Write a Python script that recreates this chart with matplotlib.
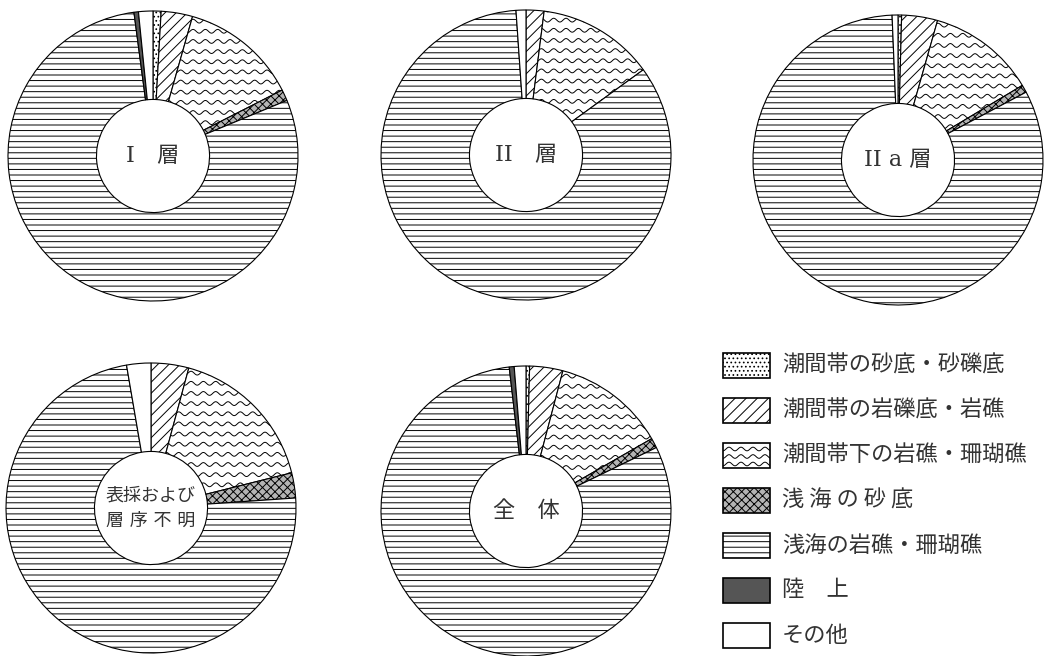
import numpy as np
import matplotlib.pyplot as plt
from matplotlib.patches import Rectangle
from matplotlib.collections import LineCollection

plt.rcParams['font.family'] = ['Noto Sans CJK JP', 'DejaVu Sans']
plt.rcParams['hatch.linewidth'] = 0.7

# 凡例の項目（円グラフの並び順と同じ）
categories = ['潮間帯の砂底・砂礫底', '潮間帯の岩礫底・岩礁', '潮間帯下の岩礁・珊瑚礁',
              '浅 海 の 砂 底', '浅海の岩礁・珊瑚礁', '陸　上', 'その他']

# 各層の割合（%）: 図から読み取った推定値
layer_1 = [0.9, 3.5, 13.1, 1.25, 79.2, 0.5, 1.6]
layer_2 = [0.0, 2.0, 13.0, 0.0, 83.9, 0.0, 1.1]
layer_2a = [0.4, 4.0, 12.0, 0.85, 82.1, 0.0, 0.65]
layer_unknown = [0.0, 4.2, 16.9, 2.8, 73.4, 0.0, 2.7]
layer_all = [0.4, 3.7, 12.6, 1.1, 80.4, 0.55, 1.3]

titles = ['I　層', 'II　層', 'II a 層', '表採および\n層 序 不 明', '全　体']
datasets = [layer_1, layer_2, layer_2a, layer_unknown, layer_all]

# 塗りのスタイル（wavy は手で描く）
styles = [
    dict(facecolor='white', hatch='....'),
    dict(facecolor='white', hatch='///'),
    dict(facecolor='white', hatch=None),
    dict(facecolor='#b4b4b4', hatch='xxxx'),
    dict(facecolor='white', hatch='---'),
    dict(facecolor='#555555', hatch=None),
    dict(facecolor='white', hatch=None),
]
WAVY = 2

W, H = 1045, 656
R = 145  # 外径（px）
centers = [(153, 156), (526, 155), (898, 160), (151, 508), (526, 511)]

fig = plt.figure(figsize=(W / 100, H / 100), dpi=100)


def wave_lines(x0, x1, y0, y1, spacing, period, amp):
    xs = np.linspace(x0, x1, 500)
    segs = []
    for y in np.arange(y0, y1, spacing):
        segs.append(np.column_stack([xs, y + amp * np.sin(2 * np.pi * xs / period)]))
    return segs


def donut(cx, cy, values, title, fs):
    L = 1.04
    half = R * L
    ax = fig.add_axes([(cx - half) / W, 1 - (cy + half) / H, 2 * half / W, 2 * half / H])
    idx = [i for i, v in enumerate(values) if v > 0]
    wedges, _ = ax.pie([values[i] for i in idx], startangle=90, counterclock=False,
                       radius=1.0,
                       wedgeprops=dict(width=0.61, edgecolor='black', linewidth=0.8))
    for w, i in zip(wedges, idx):
        w.set_facecolor(styles[i]['facecolor'])
        if styles[i]['hatch']:
            w.set_hatch(styles[i]['hatch'])
        if i == WAVY:
            lc = LineCollection(wave_lines(-1.1, 1.1, -1.1, 1.1, 0.07, 0.085, 0.013),
                                colors='black', linewidths=0.7)
            ax.add_collection(lc)
            lc.set_clip_path(w)
    ax.text(0, 0, title, ha='center', va='center', fontsize=fs, linespacing=1.5,
            color='#333333', family=['DejaVu Serif', 'Noto Sans CJK JP'])
    ax.set_xlim(-L, L)
    ax.set_ylim(-L, L)
    ax.set_aspect('equal')
    ax.axis('off')


for (cx, cy), vals, t in zip(centers, datasets, titles):
    donut(cx, cy, vals, t, 13 if '\n' in t else 16)

# 凡例
lg = fig.add_axes([0, 0, 1, 1])
lg.set_xlim(0, W)
lg.set_ylim(H, 0)
lg.axis('off')
row_y = [365, 410, 455, 500, 545, 590, 635]
for i, (y, lab) in enumerate(zip(row_y, categories)):
    box = Rectangle((723, y - 12), 47, 25, facecolor=styles[i]['facecolor'],
                    edgecolor='black', linewidth=1.2, hatch=styles[i]['hatch'])
    lg.add_patch(box)
    if i == WAVY:
        lc = LineCollection(wave_lines(723, 770, y - 6, y + 11, 7.5, 12, 1.8),
                            colors='black', linewidths=0.7)
        lg.add_collection(lc)
        lc.set_clip_path(box)
    lg.text(782, y, lab, ha='left', va='center', fontsize=16, color='#333333')

plt.savefig('out.png', dpi=100)
